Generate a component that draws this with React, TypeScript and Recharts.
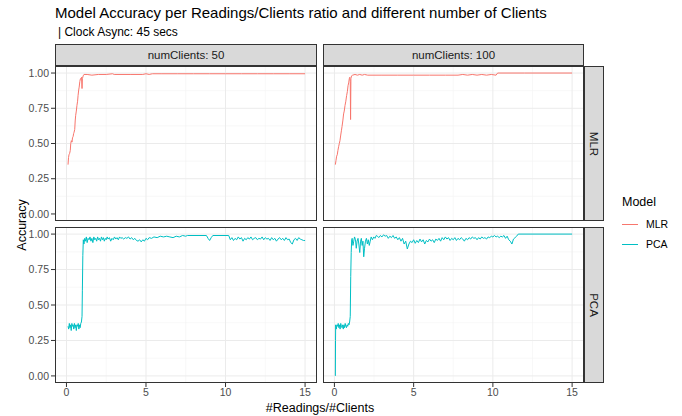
import React from "react";
import { LineChart, Line, XAxis, YAxis, CartesianGrid } from "recharts";

// facet layout
const xTicks = [0, 5, 10, 15];
const xMinor = [2.5, 7.5, 12.5];
const yTicks = [0, 0.25, 0.5, 0.75, 1];
const yMinor = [0.125, 0.375, 0.625, 0.875];
const colLabels = ["numClients: 50", "numClients: 100"];
const rowLabels = ["MLR", "PCA"];
const modelColors = { MLR: "#F8766D", PCA: "#00BFC4" };

// accuracy vs #readings/#clients, one series per facet
const mlr50: [number, number][] = [
  [0.1, 0.35], [0.13, 0.4], [0.16, 0.42], [0.2, 0.43], [0.24, 0.45], [0.27, 0.5], [0.31, 0.52],
  [0.35, 0.51], [0.38, 0.54], [0.42, 0.55], [0.45, 0.57], [0.48, 0.58], [0.52, 0.6], [0.55, 0.66],
  [0.58, 0.7], [0.62, 0.73], [0.66, 0.77], [0.7, 0.8], [0.73, 0.84], [0.77, 0.88], [0.8, 0.9],
  [0.84, 0.94], [0.88, 0.96], [0.92, 0.96], [0.95, 0.97], [0.98, 0.89], [1.0, 0.96], [1.05, 0.98],
  [1.1, 0.99], [1.3, 0.99], [1.6, 0.985], [2, 0.99], [2.5, 0.99], [2.9, 0.995], [3, 0.99], [4, 0.99],
  [4.8, 0.99], [5, 0.995], [5.2, 0.99], [5.4, 0.995], [6, 0.995], [7, 0.995], [8, 0.995], [9, 0.995],
  [10, 0.995], [11, 0.995], [12, 0.995], [13, 0.995], [14, 0.995], [15, 0.995],
];

const mlr100: [number, number][] = [
  [0.06, 0.35], [0.1, 0.38], [0.14, 0.41], [0.18, 0.42], [0.22, 0.45], [0.27, 0.48], [0.31, 0.5],
  [0.35, 0.52], [0.4, 0.56], [0.44, 0.59], [0.48, 0.62], [0.53, 0.66], [0.58, 0.71], [0.62, 0.73],
  [0.67, 0.77], [0.72, 0.8], [0.77, 0.84], [0.82, 0.87], [0.86, 0.91], [0.9, 0.93], [0.94, 0.96],
  [0.97, 0.97], [1.0, 0.94], [1.02, 0.67], [1.04, 0.96], [1.08, 0.98], [1.15, 0.985], [1.3, 0.99],
  [1.45, 0.985], [1.6, 0.99], [1.75, 0.985], [1.9, 0.99], [2.1, 0.985], [3, 0.985], [4, 0.985],
  [5, 0.985], [6, 0.985], [7, 0.985], [7.8, 0.985], [8.1, 0.99], [8.4, 0.985], [8.7, 0.99],
  [9, 0.985], [9.3, 0.99], [9.6, 0.985], [9.9, 0.99], [10.2, 0.985], [10.3, 1.0], [12, 1.0], [15, 1.0],
];

const pca50: [number, number][] = [
  [0.1, 0.35], [0.14, 0.33], [0.18, 0.37], [0.22, 0.34], [0.26, 0.36], [0.3, 0.32], [0.34, 0.37],
  [0.38, 0.35], [0.42, 0.36], [0.46, 0.33], [0.5, 0.37], [0.54, 0.34], [0.58, 0.36], [0.62, 0.32],
  [0.66, 0.36], [0.7, 0.35], [0.74, 0.37], [0.78, 0.33], [0.82, 0.36], [0.86, 0.34], [0.9, 0.37],
  [0.94, 0.38], [0.98, 0.42], [1.0, 0.6], [1.03, 0.85], [1.06, 0.96], [1.1, 0.93], [1.15, 0.97],
  [1.2, 0.95], [1.25, 0.98], [1.3, 0.94], [1.36, 0.97], [1.42, 0.96], [1.48, 0.98], [1.54, 0.95],
  [1.6, 0.97], [1.66, 0.94], [1.72, 0.98], [1.78, 0.96], [1.84, 0.97], [1.9, 0.95], [1.96, 0.98],
  [2.02, 0.96], [2.08, 0.97], [2.14, 0.95], [2.2, 0.98], [2.26, 0.96], [2.32, 0.975], [2.38, 0.95],
  [2.44, 0.97], [2.5, 0.96], [2.56, 0.98], [2.62, 0.965], [2.7, 0.975], [2.78, 0.95], [2.86, 0.97],
  [2.94, 0.96], [3.02, 0.98], [3.1, 0.965], [3.18, 0.975], [3.26, 0.96], [3.34, 0.98], [3.42, 0.97],
  [3.5, 0.975], [3.6, 0.965], [3.7, 0.975], [3.8, 0.97], [3.9, 0.98], [4.0, 0.965], [4.1, 0.975],
  [4.2, 0.96], [4.3, 0.97], [4.4, 0.955], [4.5, 0.95], [4.6, 0.96], [4.7, 0.945], [4.8, 0.96],
  [4.9, 0.95], [5.0, 0.97], [5.1, 0.96], [5.2, 0.975], [5.35, 0.97], [5.5, 0.98], [5.7, 0.975],
  [5.9, 0.985], [6.1, 0.98], [6.3, 0.985], [6.5, 0.98], [6.7, 0.975], [6.9, 0.985], [7.1, 0.98],
  [7.3, 0.99], [7.5, 0.985], [7.6, 0.99], [8.8, 0.99], [8.9, 0.97], [9.0, 0.955], [9.1, 0.975],
  [9.2, 0.99], [10.2, 0.99], [10.3, 0.96], [10.4, 0.975], [10.5, 0.955], [10.6, 0.97], [10.7, 0.96],
  [10.8, 0.98], [10.9, 0.965], [11.0, 0.975], [11.1, 0.95], [11.2, 0.97], [11.3, 0.96], [11.4, 0.975],
  [11.5, 0.965], [11.6, 0.98], [11.7, 0.96], [11.8, 0.97], [11.9, 0.975], [12.0, 0.96], [12.1, 0.97],
  [12.2, 0.965], [12.3, 0.98], [12.4, 0.96], [12.5, 0.975], [12.6, 0.965], [12.7, 0.97], [12.8, 0.955],
  [12.9, 0.975], [13.0, 0.96], [13.1, 0.97], [13.2, 0.95], [13.3, 0.965], [13.4, 0.975], [13.5, 0.96],
  [13.6, 0.97], [13.7, 0.955], [13.8, 0.975], [13.9, 0.96], [14.0, 0.965], [14.1, 0.94], [14.2, 0.93],
  [14.3, 0.96], [14.4, 0.97], [14.5, 0.955], [14.6, 0.975], [14.7, 0.965], [14.8, 0.96], [14.9, 0.955],
  [15.0, 0.955],
];

const pca100: [number, number][] = [
  [0.06, 0.0], [0.07, 0.25], [0.08, 0.36], [0.12, 0.33], [0.16, 0.36], [0.2, 0.35], [0.24, 0.37],
  [0.28, 0.34], [0.32, 0.36], [0.36, 0.33], [0.4, 0.37], [0.44, 0.35], [0.48, 0.34], [0.52, 0.36],
  [0.56, 0.33], [0.6, 0.36], [0.64, 0.34], [0.68, 0.37], [0.72, 0.35], [0.76, 0.34], [0.8, 0.36],
  [0.84, 0.35], [0.88, 0.37], [0.92, 0.36], [0.96, 0.38], [1.0, 0.42], [1.03, 0.7], [1.06, 0.87],
  [1.09, 0.96], [1.12, 0.97], [1.17, 0.92], [1.22, 0.95], [1.27, 0.98], [1.33, 0.96], [1.38, 0.9],
  [1.43, 0.95], [1.49, 0.97], [1.54, 0.93], [1.6, 0.87], [1.65, 0.95], [1.7, 0.97], [1.75, 0.92],
  [1.8, 0.95], [1.85, 0.84], [1.9, 0.9], [1.96, 0.95], [2.02, 0.97], [2.08, 0.93], [2.14, 0.96],
  [2.2, 0.92], [2.26, 0.95], [2.32, 0.98], [2.4, 0.96], [2.48, 0.98], [2.56, 0.97], [2.64, 0.99],
  [2.72, 0.985], [2.8, 0.975], [2.9, 0.99], [3.0, 0.98], [3.1, 0.995], [3.2, 0.985], [3.3, 0.99],
  [3.4, 0.97], [3.5, 0.985], [3.6, 0.975], [3.7, 0.99], [3.8, 0.97], [3.9, 0.98], [4.0, 0.96],
  [4.1, 0.975], [4.2, 0.95], [4.3, 0.97], [4.4, 0.93], [4.5, 0.95], [4.6, 0.895], [4.7, 0.93],
  [4.8, 0.95], [4.9, 0.94], [5.0, 0.96], [5.1, 0.935], [5.2, 0.955], [5.3, 0.94], [5.4, 0.965],
  [5.5, 0.945], [5.6, 0.96], [5.7, 0.93], [5.8, 0.955], [5.9, 0.945], [6.0, 0.965], [6.1, 0.95],
  [6.2, 0.96], [6.3, 0.94], [6.4, 0.965], [6.5, 0.955], [6.6, 0.97], [6.7, 0.95], [6.8, 0.975],
  [6.9, 0.96], [7.0, 0.98], [7.1, 0.965], [7.2, 0.975], [7.3, 0.955], [7.4, 0.97], [7.5, 0.96],
  [7.6, 0.975], [7.7, 0.955], [7.8, 0.97], [7.9, 0.96], [8.0, 0.975], [8.1, 0.965], [8.2, 0.95],
  [8.3, 0.97], [8.4, 0.96], [8.5, 0.975], [8.6, 0.965], [8.7, 0.98], [8.8, 0.97], [8.9, 0.975],
  [9.0, 0.96], [9.1, 0.975], [9.2, 0.965], [9.3, 0.98], [9.4, 0.97], [9.5, 0.975], [9.6, 0.965],
  [9.7, 0.98], [9.8, 0.975], [9.9, 0.985], [10.0, 0.98], [10.1, 0.99], [10.2, 0.98], [10.3, 0.985],
  [10.4, 0.975], [10.5, 0.985], [10.6, 0.98], [10.7, 0.99], [10.8, 0.97], [10.9, 0.985], [11.0, 0.96],
  [11.1, 0.95], [11.2, 0.93], [11.3, 0.965], [11.4, 0.975], [11.5, 0.985], [11.6, 1.0], [15.0, 1.0],
];

const X_DOMAIN: [number, number] = [-0.72, 15.75];
const Y_DOMAIN: [number, number] = [-0.05, 1.05];

const FONT = '"Liberation Sans", Arial, sans-serif';
const COLS = [
  { left: 55, width: 262 },
  { left: 323, width: 261 },
];
const ROWS = [
  { top: 66, height: 155 },
  { top: 227, height: 156 },
];
const Y_AXIS_W = 55;
const X_AXIS_H = 22;

const toRows = (pts: [number, number][]) => pts.map(([x, y]) => ({ x, y }));

function Panel({
  points,
  color,
  col,
  row,
}: {
  points: [number, number][];
  color: string;
  col: number;
  row: number;
}) {
  const { left, width } = COLS[col];
  const { top, height } = ROWS[row];
  const showY = col === 0;
  const showX = row === 1;
  const yw = showY ? Y_AXIS_W : 0;
  const xh = showX ? X_AXIS_H : 0;
  const tick = { fontSize: 10.5, fill: "#4d4d4d", fontFamily: FONT };

  return (
    <>
      <div style={{ position: "absolute", left: left - yw, top }}>
        <LineChart
          width={width + yw}
          height={height + xh}
          data={toRows(points)}
          margin={{ top: 0, right: 0, bottom: 0, left: 0 }}
        >
          <CartesianGrid
            verticalValues={xMinor}
            horizontalValues={yMinor}
            stroke="#f3f3f3"
            strokeWidth={0.6}
          />
          <CartesianGrid
            verticalValues={xTicks}
            horizontalValues={yTicks}
            stroke="#ebebeb"
            strokeWidth={1}
          />
          <XAxis
            type="number"
            dataKey="x"
            domain={X_DOMAIN}
            ticks={xTicks}
            allowDataOverflow
            hide={!showX}
            height={xh}
            tick={tick}
            tickSize={4}
            tickMargin={2}
            tickLine={{ stroke: "#333" }}
            axisLine={false}
          />
          <YAxis
            type="number"
            domain={Y_DOMAIN}
            ticks={yTicks}
            allowDataOverflow
            hide={!showY}
            width={yw}
            tick={tick}
            tickSize={4}
            tickMargin={2}
            tickLine={{ stroke: "#333" }}
            axisLine={false}
            tickFormatter={(v: number) => v.toFixed(2)}
          />
          <Line
            type="linear"
            dataKey="y"
            stroke={color}
            strokeWidth={1}
            dot={false}
            activeDot={false}
            isAnimationActive={false}
          />
        </LineChart>
      </div>
      <div
        style={{
          position: "absolute",
          left,
          top,
          width: width - 2,
          height: height - 2,
          border: "1px solid #333",
          pointerEvents: "none",
        }}
      />
    </>
  );
}

export default function App() {
  const stripText = { fontSize: 11.5, color: "#1a1a1a", fontFamily: FONT };
  return (
    <div
      style={{
        position: "absolute",
        left: 0,
        top: 0,
        width: 682,
        height: 416,
        background: "#fff",
        fontFamily: FONT,
        overflow: "hidden",
      }}
    >
      <div style={{ position: "absolute", left: 55, top: 4, fontSize: 15, color: "#000", whiteSpace: "nowrap" }}>
        Model Accuracy per Readings/Clients ratio and different number of Clients
      </div>
      <div style={{ position: "absolute", left: 58, top: 25, fontSize: 12, color: "#000", whiteSpace: "nowrap" }}>
        | Clock Async: 45 secs
      </div>

      {/* column strips */}
      {COLS.map((c, i) => (
        <div
          key={colLabels[i]}
          style={{
            position: "absolute",
            left: c.left,
            top: 44,
            width: c.width - 2,
            height: 20,
            background: "#d9d9d9",
            border: "1px solid #333",
            display: "flex",
            alignItems: "center",
            justifyContent: "center",
            ...stripText,
          }}
        >
          {colLabels[i]}
        </div>
      ))}

      {/* row strips */}
      {ROWS.map((r, i) => (
        <div
          key={rowLabels[i]}
          style={{
            position: "absolute",
            left: 584,
            top: r.top,
            width: 18,
            height: r.height - 2,
            background: "#d9d9d9",
            border: "1px solid #333",
            display: "flex",
            alignItems: "center",
            justifyContent: "center",
            ...stripText,
          }}
        >
          <span style={{ transform: "rotate(90deg)", whiteSpace: "nowrap" }}>{rowLabels[i]}</span>
        </div>
      ))}

      <Panel points={mlr50} color={modelColors.MLR} col={0} row={0} />
      <Panel points={mlr100} color={modelColors.MLR} col={1} row={0} />
      <Panel points={pca50} color={modelColors.PCA} col={0} row={1} />
      <Panel points={pca100} color={modelColors.PCA} col={1} row={1} />

      {/* axis titles */}
      <div
        style={{
          position: "absolute",
          left: 22,
          top: 225,
          transform: "translate(-50%, -50%) rotate(-90deg)",
          fontSize: 12.5,
          color: "#000",
          whiteSpace: "nowrap",
        }}
      >
        Accuracy
      </div>
      <div
        style={{
          position: "absolute",
          left: 320,
          top: 408,
          transform: "translate(-50%, -50%)",
          fontSize: 12.5,
          color: "#000",
          whiteSpace: "nowrap",
        }}
      >
        #Readings/#Clients
      </div>

      {/* legend */}
      <div style={{ position: "absolute", left: 622, top: 195, fontSize: 12.5, color: "#000" }}>Model</div>
      {rowLabels.map((m, i) => (
        <div
          key={m}
          style={{
            position: "absolute",
            left: 622,
            top: 216 + i * 20,
            height: 16,
            display: "flex",
            alignItems: "center",
            fontSize: 10.5,
            color: "#000",
          }}
        >
          <span
            style={{
              display: "inline-block",
              width: 16,
              height: 1,
              background: modelColors[m as "MLR" | "PCA"],
              marginRight: 8,
            }}
          />
          {m}
        </div>
      ))}
    </div>
  );
}
